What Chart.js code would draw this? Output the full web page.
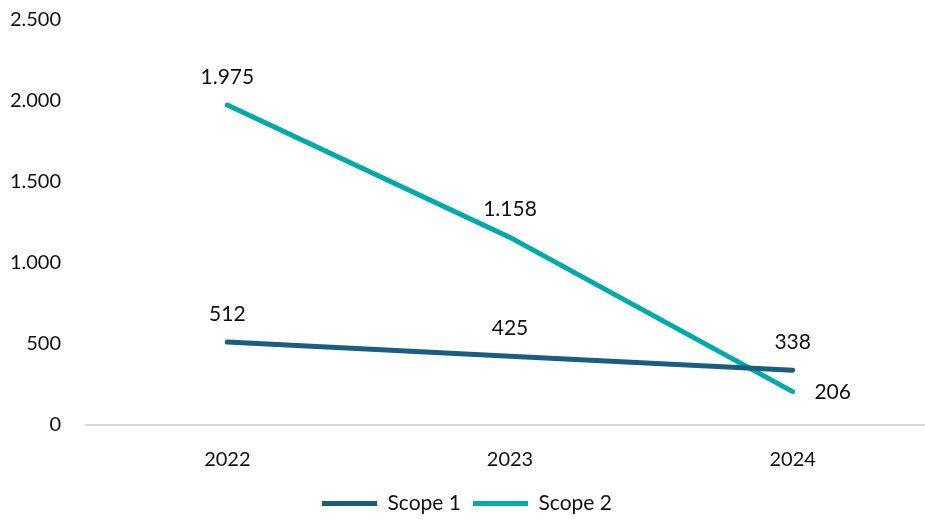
<!DOCTYPE html>
<html>
<head>
<meta charset="utf-8">
<script src="https://cdn.jsdelivr.net/npm/chart.js@4"></script>
<style>
  html, body { margin: 0; padding: 0; background: #ffffff; overflow: hidden; }
  #wrap { width: 925px; height: 519px; overflow: hidden; }
  #c { display: block; }
</style>
</head>
<body>
<div id="wrap"><canvas id="c" width="934" height="524"></canvas></div>
<script>
// Emissions by scope (tCO2e)
const years = ['2022', '2023', '2024'];
const scope1 = [512, 425, 338];
const scope2 = [1975, 1158, 206];
const yTicks = [0, 500, 1000, 1500, 2000, 2500];

// Where each value label sits relative to its point
const scope1LabelPos = ['top', 'top', 'top'];
const scope2LabelPos = ['top', 'top', 'right'];

const fmt = v => new Intl.NumberFormat('de-DE').format(v);
const FONT = 'Lato, "Open Sans", sans-serif';

const valueLabels = {
  id: 'valueLabels',
  afterDatasetsDraw(chart) {
    const ctx = chart.ctx;
    ctx.save();
    ctx.font = '21px ' + FONT;
    ctx.fillStyle = '#111111';
    ctx.textAlign = 'center';
    ctx.textBaseline = 'middle';
    chart.data.datasets.forEach((ds, di) => {
      const meta = chart.getDatasetMeta(di);
      meta.data.forEach((pt, i) => {
        const pos = ds.labelPos[i];
        let x = pt.x, y = pt.y;
        if (pos === 'right') { x += 40; y += 1; }
        else { y -= 28; }
        ctx.fillText(fmt(ds.data[i]), x, y);
      });
    });
    ctx.restore();
  }
};

new Chart(document.getElementById('c'), {
  type: 'line',
  data: {
    labels: years,
    datasets: [
      {
        label: 'Scope 1',
        data: scope1,
        labelPos: scope1LabelPos,
        borderColor: '#175e82',
        backgroundColor: '#175e82',
        borderWidth: 5,
        borderCapStyle: 'round',
        pointRadius: 0,
        tension: 0
      },
      {
        label: 'Scope 2',
        data: scope2,
        labelPos: scope2LabelPos,
        borderColor: '#00aaa8',
        backgroundColor: '#00aaa8',
        borderWidth: 5,
        borderCapStyle: 'round',
        pointRadius: 0,
        tension: 0
      }
    ]
  },
  options: {
    responsive: false,
    animation: false,
    events: [],
    layout: { padding: { top: 20, right: 0, left: 0, bottom: 0 } },
    plugins: {
      tooltip: { enabled: false },
      legend: {
        position: 'bottom',
        labels: {
          font: { family: FONT, size: 21 },
          color: '#111111',
          boxWidth: 55,
          boxHeight: 5,
          padding: 12,
          useBorderRadius: true,
          borderRadius: 2.5,
          generateLabels(chart) {
            return chart.data.datasets.map((ds, i) => ({
              text: ds.label,
              fillStyle: ds.borderColor,
              strokeStyle: ds.borderColor,
              lineWidth: 0,
              fontColor: '#111111',
              hidden: false,
              datasetIndex: i
            }));
          }
        }
      }
    },
    scales: {
      x: {
        offset: true,
        grid: { display: false },
        border: { display: true, color: '#d9d9d9', width: 2 },
        ticks: {
          color: '#111111',
          font: { family: FONT, size: 20 },
          padding: 15
        },
        afterFit(scale) { scale.height = 56; }
      },
      y: {
        min: 0,
        max: 2500,
        afterBuildTicks(scale) { scale.ticks = yTicks.map(v => ({ value: v })); },
        grid: { display: false },
        border: { display: false },
        ticks: {
          color: '#111111',
          font: { family: FONT, size: 20 },
          padding: 17,
          callback: v => fmt(v)
        },
        afterFit(scale) {
          scale.width = 86;
          scale.paddingTop = 0;
          scale.paddingBottom = 0;
        }
      }
    }
  },
  plugins: [valueLabels]
});
</script>
</body>
</html>
